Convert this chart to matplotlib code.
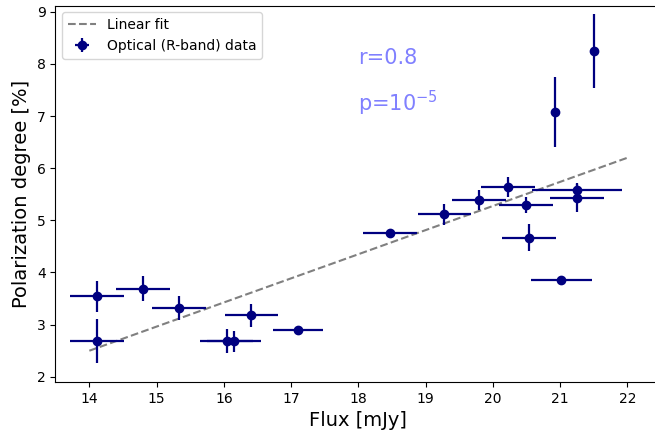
import matplotlib
matplotlib.use("Agg")
import matplotlib.pyplot as plt
import numpy as np

# Optical R-band flux vs polarization degree
flux = [14.12, 14.12, 14.80, 15.33, 16.04, 16.15, 16.41, 17.10, 18.47, 19.28,
        19.80, 20.23, 20.49, 20.54, 21.02, 21.25, 21.25, 20.93, 21.51]
flux_err = [0.40, 0.40, 0.40, 0.40, 0.40, 0.40, 0.40, 0.37, 0.40, 0.40,
            0.40, 0.40, 0.40, 0.40, 0.45, 0.67, 0.40, 0.0, 0.0]
pol = [3.54, 2.68, 3.69, 3.32, 2.68, 2.68, 3.18, 2.90, 4.76, 5.12,
       5.39, 5.64, 5.29, 4.67, 3.86, 5.59, 5.43, 7.08, 8.24]
pol_err = [0.29, 0.42, 0.24, 0.23, 0.23, 0.20, 0.22, 0.05, 0.05, 0.20,
           0.20, 0.19, 0.15, 0.26, 0.03, 0.12, 0.27, 0.67, 0.71]

# Linear fit parameters: pol = fit_intercept + fit_slope * (flux - fit_x0)
fit_x0 = 14.0
fit_intercept = 2.5
fit_slope = 0.4625
fit_range = [14.0, 22.0]

fig = plt.figure(figsize=(6.55, 4.34), dpi=100)
ax = fig.add_axes([55.3 / 655, 1 - 382 / 434, 605 / 655, 376.5 / 434])

xf = np.linspace(fit_range[0], fit_range[1], 50)
ax.plot(xf, fit_intercept + fit_slope * (xf - fit_x0), "--", color="gray",
        lw=1.5, label="Linear fit")
ax.errorbar(flux, pol, xerr=flux_err, yerr=pol_err, fmt="o", color="navy",
            ms=6, elinewidth=1.6, capsize=0, label="Optical (R-band) data")

ax.text(18.0, 8.0, "r=0.8", color="#8080ff", fontsize=15)
ax.text(18.0, 7.1, r"p=$10^{-5}$", color="#8080ff", fontsize=15)

ax.set_xlim(13.494, 22.49)
ax.set_ylim(1.9, 9.12)
ax.set_xticks(range(14, 23))
ax.set_yticks(range(2, 10))
ax.tick_params(labelsize=10)
ax.set_xlabel("Flux [mJy]", fontsize=14)
ax.set_ylabel("Polarization degree [%]", fontsize=14)
ax.legend(loc="upper left", fontsize=10)

fig.savefig("out.png", dpi=100)
